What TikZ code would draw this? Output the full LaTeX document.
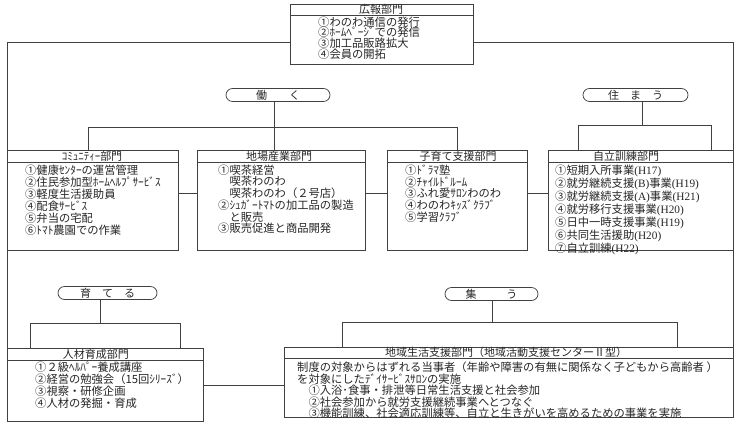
\documentclass[tikz,border=0pt]{standalone}
\usepackage{fontspec}
\newfontfamily\jp{Noto Sans CJK JP}
\newfontfamily\lat{Liberation Serif}
\begin{document}
\begin{tikzpicture}[x=1pt,y=-1pt,
  ln/.style={draw=black!75, line width=0.7pt},
  box/.style={ln, fill=white, rectangle, inner sep=0pt, outer sep=0pt, anchor=north west},
  hdr/.style={font=\jp\fontsize{11}{12}\selectfont, inner sep=0pt, text=black!85},
  body/.style={font=\jp\fontsize{11.3}{#1}\selectfont, inner sep=0pt, align=left, anchor=north west, text=black!85},
  body/.default=11.7,
  pill/.style={ln, fill=white, rounded corners=6.5pt, minimum height=13pt, inner sep=0pt, outer sep=0pt, text=black!85, font=\jp\fontsize{11}{12}\selectfont}]
\useasboundingbox[fill=white] (0,0) rectangle (740,427);

% helper coordinates
\coordinate (L42) at (0,42);
\coordinate (M193) at (0,193);
\coordinate (B385) at (0,385);

% top box
\node[box, minimum width=183pt, minimum height=60pt] (koho) at (290,4) {};
\draw[ln] ([yshift=-11pt]koho.north west) -- ([yshift=-11pt]koho.north east);
\node[hdr] (kohoH) at (381,9.5) {広報部門};
\node[body=10.7] (kohoB) at (318,16.5) {①わのわ通信の発行\\②ﾎｰﾑﾍﾟｰｼﾞでの発信\\③加工品販路拡大\\④会員の開拓};

% middle row boxes
\node[box, minimum width=171pt, minimum height=100pt] (comm) at (7,150) {};
\draw[ln] ([yshift=-12pt]comm.north west) -- ([yshift=-12pt]comm.north east);
\node[hdr] (commH) at (92,156) {ｺﾐｭﾆﾃｨｰ部門};
\node[body=12] (commB) at (25,164.5) {①健康ｾﾝﾀｰの運営管理\\②住民参加型ﾎｰﾑﾍﾙﾌﾟｻｰﾋﾞｽ\\③軽度生活援助員\\④配食ｻｰﾋﾞｽ\\⑤弁当の宅配\\⑥ﾄﾏﾄ農園での作業};

\node[box, minimum width=168pt, minimum height=100pt] (jiba) at (197,150) {};
\draw[ln] ([yshift=-12pt]jiba.north west) -- ([yshift=-12pt]jiba.north east);
\node[hdr] (jibaH) at (279,156) {地場産業部門};
\node[body=11.7] (jibaB) at (218,164.5) {①喫茶経営\\　喫茶わのわ\\　喫茶わのわ（２号店）\\②ｼｭｶﾞｰﾄﾏﾄの加工品の製造\\　と販売\\③販売促進と商品開発};

\node[box, minimum width=140pt, minimum height=100pt] (kosodate) at (387,150) {};
\draw[ln] ([yshift=-12pt]kosodate.north west) -- ([yshift=-12pt]kosodate.north east);
\node[hdr] (kosodateH) at (458,156) {子育て支援部門};
\node[body=11.7] (kosodateB) at (405,164.5) {①ﾄﾞﾗﾏ塾\\②ﾁｬｲﾙﾄﾞﾙｰﾑ\\③ふれ愛ｻﾛﾝわのわ\\④わのわｷｯｽﾞｸﾗﾌﾞ\\⑤学習ｸﾗﾌﾞ};

\node[box, minimum width=185pt, minimum height=100pt] (jiritsu) at (548,150) {};
\draw[ln] ([yshift=-12pt]jiritsu.north west) -- ([yshift=-12pt]jiritsu.north east);
\node[hdr] (jiritsuH) at (626,156) {自立訓練部門};
\node[body=11.7] (jiritsuB) at (555,164.5) {①短期入所事業{\lat (H17)}\\②就労継続支援{\lat (B)}事業{\lat (H19)}\\③就労継続支援{\lat (A)}事業{\lat (H21)}\\④就労移行支援事業{\lat (H20)}\\⑤日中一時支援事業{\lat (H19)}\\⑥共同生活援助{\lat (H20)}\\⑦自立訓練{\lat (H22)}};

% bottom row boxes
\node[box, minimum width=196pt, minimum height=73pt] (jinzai) at (7,348) {};
\draw[ln] ([yshift=-12pt]jinzai.north west) -- ([yshift=-12pt]jinzai.north east);
\node[hdr] (jinzaiH) at (96,354) {人材育成部門};
\node[body=12] (jinzaiB) at (35,361.5) {①２級ﾍﾙﾊﾟｰ養成講座\\②経営の勉強会（15回ｼﾘｰｽﾞ）\\③視察・研修企画\\④人材の発掘・育成};

\node[box, minimum width=449pt, minimum height=70pt] (chiiki) at (284,347) {};
\draw[ln] ([yshift=-11pt]chiiki.north west) -- ([yshift=-11pt]chiiki.north east);
\node[hdr] (chiikiH) at (506,352.5) {地域生活支援部門（地域活動支援センターⅡ型）};
\node[body=10.2] (chiikiB) at (297,361.5) {制度の対象からはずれる当事者（年齢や障害の有無に関係なく子どもから高齢者 ）\\を対象にしたﾃﾞｲｻｰﾋﾞｽｻﾛﾝの実施\\　①入浴･食事・排泄等日常生活支援と社会参加\\　②社会参加から就労支援継続事業へとつなぐ\\　③機能訓練、社会適応訓練等、自立と生きがいを高めるための事業を実施};

% pills
\node[pill, minimum width=104pt] (hataraku) at (278,95) {働　　く};
\node[pill, minimum width=105pt] (sumau) at (635.5,95) {住　ま　う};
\node[pill, minimum width=99pt] (sodateru) at (107.5,293) {育　て　る};
\node[pill, minimum width=93pt] (tsudou) at (491.5,294) {集\hspace{2.7em}う};

% frame lines from the top box
\draw[ln] (koho.west |- L42) -| (jinzai.south west);
\draw[ln] (koho.east |- L42) -| (chiiki.south east);

% horizontal links between middle boxes
\draw[ln] (comm.east |- M193) -- (jiba.west |- M193);
\draw[ln] (jiba.east |- M193) -- (kosodate.west |- M193);
\draw[ln] (kosodate.east |- M193) -- (jiritsu.west |- M193);
% link between bottom boxes
\draw[ln] (jinzai.east |- B385) -- (chiiki.west |- B385);

% 働く
\coordinate (vH) at (274,0);
\coordinate (hL) at (88,127);
\coordinate (hR) at (457,127);
\draw[ln] (hataraku.south -| vH) -- (jiba.north -| vH);
\draw[ln] (comm.north -| hL) -- (hL) -- (hR) -- (kosodate.north -| hR);

% 住まう
\coordinate (vS) at (642,125);
\coordinate (sL) at (578,125);
\coordinate (sR) at (711,125);
\draw[ln] (sumau.south -| vS) -- (vS);
\draw[ln] (jiritsu.north -| sL) -- (sL) -- (sR) -- (jiritsu.north -| sR);

% 育てる
\coordinate (vD) at (100,323);
\coordinate (dL) at (30,323);
\coordinate (dR) at (180,323);
\draw[ln] (sodateru.south -| vD) -- (vD);
\draw[ln] (jinzai.north -| dL) -- (dL) -- (dR) -- (jinzai.north -| dR);

% 集う
\coordinate (vT) at (492,322);
\coordinate (tL) at (342,322);
\coordinate (tR) at (677,322);
\draw[ln] (tsudou.south -| vT) -- (vT);
\draw[ln] (chiiki.north -| tL) -- (tL) -- (tR) -- (chiiki.north -| tR);
\end{tikzpicture}
\end{document}
